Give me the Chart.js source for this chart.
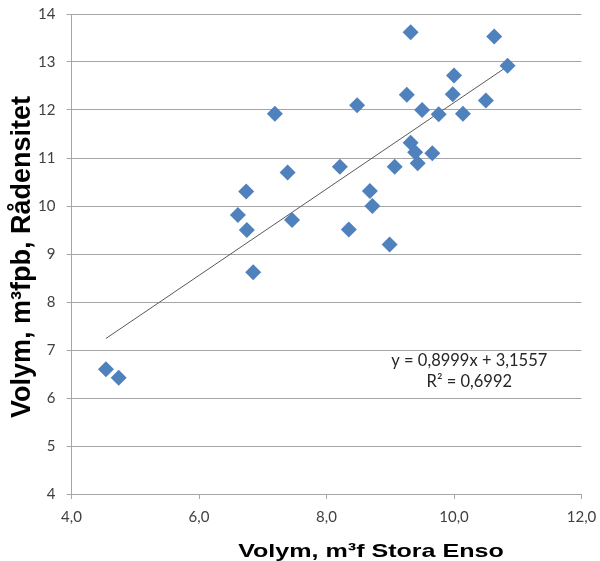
<!DOCTYPE html>
<html>
<head>
<meta charset="utf-8">
<script src="https://cdn.jsdelivr.net/npm/chart.js@4"></script>
<style>
  html, body { margin: 0; padding: 0; background: #fff; }
  #wrap { width: 600px; height: 561px; }
</style>
</head>
<body>
<div id="wrap"><canvas id="chart" width="600" height="561"></canvas></div>
<script>
// Volym Stora Enso (x) vs Volym Rådensitet (y)
const volStoraEnso = [4.54, 4.74, 6.61, 6.74, 6.75, 6.85, 7.19, 7.39, 7.46, 9.32,
  10.63, 10.84, 10.00, 9.26, 9.98, 8.48, 9.50, 10.50, 9.76, 10.14,
  9.32, 9.39, 9.66, 9.43, 8.21, 9.07, 8.68, 8.72, 8.35, 8.99];
const volRadensitet = [6.60, 6.42, 9.81, 10.30, 9.50, 8.62, 11.92, 10.70, 9.71, 13.62,
  13.53, 12.92, 12.72, 12.32, 12.33, 12.10, 12.00, 12.20, 11.91, 11.92,
  11.32, 11.12, 11.10, 10.89, 10.82, 10.82, 10.31, 10.00, 9.51, 9.20];

// linear trend line end points
const trendX = [4.54, 10.84];
const trendY = [7.24, 12.91];

const equationLines = ['y = 0,8999x + 3,1557', 'R² = 0,6992'];
const xTitle = 'Volym, m³f Stora Enso';
const yTitle = 'Volym, m³fpb, Rådensitet';

const points = volStoraEnso.map((x, i) => ({ x: x, y: volRadensitet[i] }));
const trend = trendX.map((x, i) => ({ x: x, y: trendY[i] }));

const tickFont = { family: "Lato, 'Open Sans', sans-serif", size: 15 };

// draws axis titles and the regression label
const textPlugin = {
  id: 'textPlugin',
  afterDraw(chart) {
    const { ctx, scales } = chart;
    ctx.save();
    ctx.fillStyle = '#000';
    ctx.textAlign = 'center';
    ctx.textBaseline = 'alphabetic';
    ctx.font = "bold 19px 'Liberation Sans', Arial, sans-serif";
    ctx.translate(371, 557);
    ctx.scale(1.32, 1);
    ctx.fillText(xTitle, 0, 0);
    ctx.restore();

    ctx.save();
    ctx.fillStyle = '#000';
    ctx.textAlign = 'center';
    ctx.textBaseline = 'alphabetic';
    ctx.font = "bold 27px 'Liberation Sans', Arial, sans-serif";
    ctx.translate(30, 257);
    ctx.rotate(-Math.PI / 2);
    ctx.fillText(yTitle, 0, 0);
    ctx.restore();

    ctx.save();
    ctx.fillStyle = '#262626';
    ctx.font = "16.5px Lato, 'Open Sans', sans-serif";
    ctx.textAlign = 'center';
    ctx.textBaseline = 'middle';
    const ex = scales.x.getPixelForValue(10.24);
    const ey = scales.y.getPixelForValue(6.77);
    ctx.fillText(equationLines[0], ex, ey);
    ctx.fillText(equationLines[1], ex, ey + 21);
    ctx.restore();
  }
};

new Chart(document.getElementById('chart'), {
  type: 'scatter',
  data: {
    datasets: [
      {
        label: 'Volym',
        data: points,
        pointStyle: 'rectRot',
        pointRadius: 8,
        pointHoverRadius: 8,
        backgroundColor: '#4F81BD',
        borderWidth: 0
      },
      {
        label: 'Trend',
        type: 'line',
        data: trend,
        borderColor: '#595959',
        borderWidth: 1,
        pointRadius: 0,
        fill: false
      }
    ]
  },
  plugins: [textPlugin],
  options: {
    responsive: false,
    animation: false,
    layout: { padding: { top: 14, right: 18.5, left: 0, bottom: 0 } },
    plugins: {
      legend: { display: false },
      tooltip: { enabled: false }
    },
    scales: {
      x: {
        type: 'linear',
        min: 4, max: 12,
        ticks: {
          stepSize: 2,
          color: '#404040',
          font: tickFont,
          padding: 9,
          callback: v => v.toFixed(1).replace('.', ',')
        },
        grid: { drawOnChartArea: false, color: '#A6A6A6', tickLength: 5 },
        border: { color: '#A6A6A6' },
        afterFit: s => {
          s.height = 67;
          s.paddingLeft = 0;
          s.paddingRight = 0;
        }
      },
      y: {
        min: 4, max: 14,
        ticks: {
          stepSize: 1,
          color: '#404040',
          font: tickFont,
          padding: 11
        },
        grid: { color: '#A6A6A6', tickLength: 5 },
        border: { color: '#A6A6A6' },
        afterFit: s => {
          s.width = 71.5;
          s.paddingTop = 0;
          s.paddingBottom = 0;
        }
      }
    }
  }
});
</script>
</body>
</html>
